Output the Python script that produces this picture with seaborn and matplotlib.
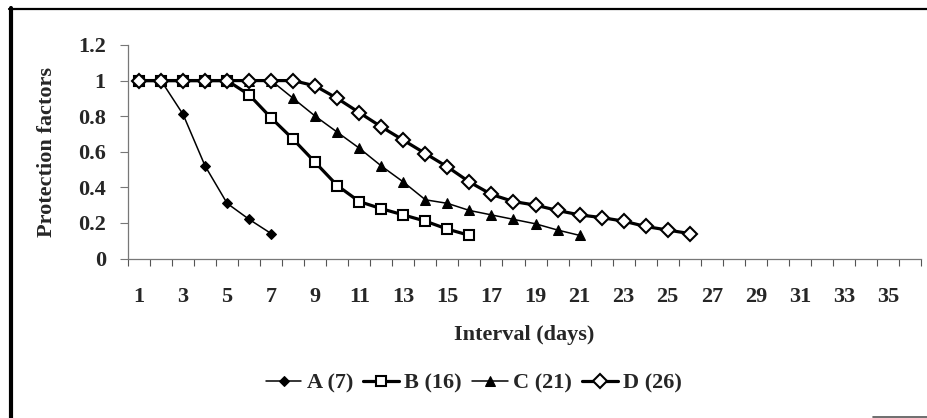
import numpy as np
import pandas as pd
import seaborn as sns
import matplotlib.pyplot as plt
from matplotlib.lines import Line2D
from matplotlib.ticker import FixedLocator, NullFormatter


a_values = [1.0, 1.0, 0.81, 0.52, 0.31, 0.22, 0.14]
b_values = [1.0, 1.0, 1.0, 1.0, 1.0, 0.92, 0.79, 0.67, 0.54, 0.41, 0.32, 0.28,
            0.245, 0.21, 0.165, 0.13]
c_values = [1.0, 1.0, 1.0, 1.0, 1.0, 1.0, 1.0, 0.90, 0.80, 0.71, 0.62, 0.52,
            0.43, 0.33, 0.31, 0.27, 0.245, 0.22, 0.195, 0.16, 0.13]
d_values = [1.0, 1.0, 1.0, 1.0, 1.0, 1.0, 1.0, 1.0, 0.97, 0.90, 0.82, 0.74,
            0.665, 0.59, 0.515, 0.43, 0.36, 0.32, 0.30, 0.27, 0.245, 0.23,
            0.21, 0.18, 0.16, 0.14]
series_names = ["A (7)", "B (16)", "C (21)", "D (26)"]

n_days = 36
x_tick_days = list(range(1, 36, 2))
y_ticks = [0, 0.2, 0.4, 0.6, 0.8, 1.0, 1.2]
y_tick_labels = ["0", "0.2", "0.4", "0.6", "0.8", "1", "1.2"]

sns.set_style("white")
plt.rcParams["font.family"] = ["Liberation Serif", "DejaVu Serif"]
plt.rcParams["font.weight"] = "bold"

fig = plt.figure(figsize=(9.28, 4.18), dpi=100)
ax = fig.add_axes([128 / 928, 1 - 258.5 / 418, 793 / 928, 213.5 / 418])

styles = [
    dict(marker="D", markersize=4.8, markerfacecolor="black", markeredgecolor="black",
         linewidth=1.1),
    dict(marker="s", markersize=7.5, markerfacecolor="white", markeredgecolor="black",
         markeredgewidth=1.5, linewidth=2.3),
    dict(marker="^", markersize=7.5, markerfacecolor="black", markeredgecolor="black",
         linewidth=1.1),
    dict(marker="D", markersize=7.0, markerfacecolor="white", markeredgecolor="black",
         markeredgewidth=1.5, linewidth=2.3),
]

for name, values, st in zip(series_names, [a_values, b_values, c_values, d_values], styles):
    df = pd.DataFrame({"day": np.arange(1, len(values) + 1), "pf": values})
    sns.lineplot(data=df, x="day", y="pf", ax=ax, color="black", label=name,
                 clip_on=False, legend=False, **st)

ax.set_xlim(0.5, n_days + 0.5)
ax.set_ylim(0, 1.2)

# x: tick marks between categories, labels on odd days
ax.xaxis.set_major_locator(FixedLocator(x_tick_days))
ax.set_xticklabels([str(d) for d in x_tick_days])
ax.xaxis.set_minor_locator(FixedLocator(np.arange(0.5, n_days + 1, 1.0)))
ax.xaxis.set_minor_formatter(NullFormatter())
ax.tick_params(axis="x", which="major", length=0, pad=20.5, labelsize=16)
ax.tick_params(axis="x", which="minor", length=5, width=0.8, color="#555555",
               direction="out", bottom=True)

ax.yaxis.set_major_locator(FixedLocator(y_ticks))
ax.set_yticklabels(y_tick_labels)
ax.tick_params(axis="y", length=5.5, width=0.8, color="#777777", direction="out",
               left=True, pad=10.5, labelsize=16)

for side in ["top", "right"]:
    ax.spines[side].set_visible(False)
for side in ["left", "bottom"]:
    ax.spines[side].set_color("#777777")
    ax.spines[side].set_linewidth(0.9)

ax.set_xlabel("Interval (days)", fontsize=16, fontweight="bold")
ax.xaxis.set_label_coords(0.5, -0.311)
ax.set_ylabel("Protection factors", fontsize=16, fontweight="bold")
ax.yaxis.set_label_coords(-0.0895, 0.5)

handles, labels = ax.get_legend_handles_labels()
fig.legend(handles, labels, loc="center", bbox_to_anchor=(474 / 928, 1 - 383 / 418),
           ncol=4, frameon=False, fontsize=16, handlelength=1.6, handletextpad=0.25,
           columnspacing=0.45, borderaxespad=0, borderpad=0)

# frame remnants of the scanned figure
fig.add_artist(Line2D([11 / 928, 11 / 928], [0, 1 - 8 / 418], transform=fig.transFigure,
                      color="black", linewidth=3))
fig.add_artist(Line2D([9 / 928, 1], [1 - 9 / 418, 1 - 9 / 418], transform=fig.transFigure,
                      color="black", linewidth=1.6))
fig.add_artist(Line2D([873 / 928, 1], [1 - 416.5 / 418, 1 - 416.5 / 418],
                      transform=fig.transFigure, color="#555555", linewidth=1.2))

fig.savefig("out.png", dpi=100)
plt.close(fig)
